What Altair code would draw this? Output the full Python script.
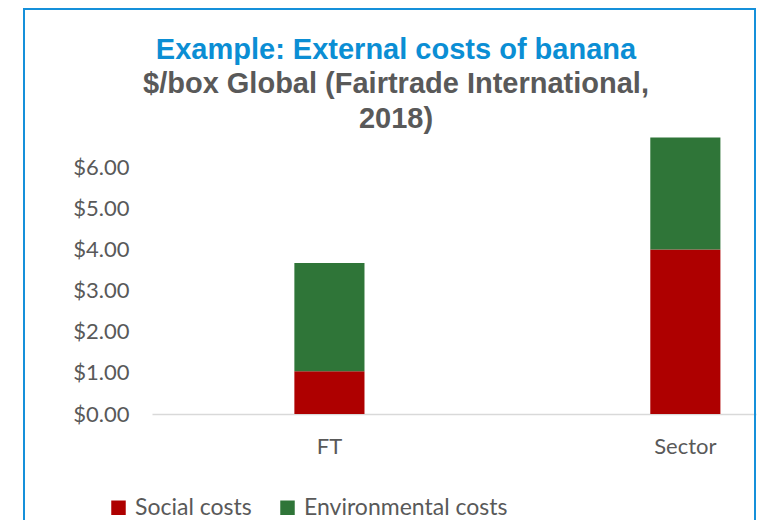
import altair as alt
import pandas as pd

categories = ["FT", "Sector"]
series = ["Social costs", "Environmental costs"]
social_costs = [1.04, 4.00]
environmental_costs = [2.63, 2.72]
series_colors = ["#AE0000", "#2F7538"]
y_ticks = [0, 1, 2, 3, 4, 5, 6]

rows = []
for i, c in enumerate(categories):
    rows.append({"cat": c, "series": series[0], "value": social_costs[i], "ord": 0})
    rows.append({"cat": c, "series": series[1], "value": environmental_costs[i], "ord": 1})
df = pd.DataFrame(rows)

LABEL_FONT = "Lato"
GRAY = "#595959"

bars = alt.Chart(df).mark_bar().encode(
    x=alt.X(
        "cat:N",
        sort=categories,
        title=None,
        scale=alt.Scale(paddingInner=0.803, paddingOuter=0.25, align=0.8),
        axis=alt.Axis(labelAngle=0, ticks=False, domainColor="#D9D9D9", domainWidth=1.5,
                      labelPadding=22, labelFont=LABEL_FONT, labelFontSize=22, labelColor=GRAY),
    ),
    y=alt.Y(
        "value:Q",
        stack="zero",
        title=None,
        scale=alt.Scale(domain=[0, 7], nice=False),
        axis=alt.Axis(values=y_ticks, format="$.2f", grid=False, domain=False, ticks=False,
                      labelPadding=23, labelFont=LABEL_FONT, labelFontSize=22, labelColor=GRAY),
    ),
    color=alt.Color(
        "series:N",
        scale=alt.Scale(domain=series, range=series_colors),
        legend=alt.Legend(title=None, orient="none", legendX=-45, legendY=370,
                          direction="horizontal", symbolType="square", symbolSize=210,
                          symbolStrokeWidth=0, labelFont=LABEL_FONT, labelFontSize=23,
                          labelColor=GRAY, columnPadding=24, labelOffset=5, padding=0,
                          labelLimit=400),
    ),
    order=alt.Order("ord:Q"),
)

frame = alt.Chart(alt.Data(values=[{"a": 1}])).mark_rect(
    fillOpacity=0, stroke="#1590DA", strokeWidth=2
).encode(
    x=alt.value(-128), x2=alt.value(603), y=alt.value(-117), y2=alt.value(400)
)

chart = alt.layer(frame, bars).properties(
    width=604,
    height=288,
    autosize=alt.AutoSizeParams(type="none"),
    padding={"left": 144, "top": 118, "right": 1, "bottom": 106},
    title=alt.TitleParams(
        text="Example: External costs of banana",
        subtitle=["$/box Global (Fairtrade International,", "2018)"],
        font="Liberation Sans", fontSize=29, fontWeight="bold", color="#0B8ED4",
        subtitleFont="Liberation Sans", subtitleFontSize=29, subtitleFontWeight="bold",
        subtitleColor=GRAY, subtitleLineHeight=35, subtitlePadding=5,
        anchor="middle", frame="group", dx=-58, offset=-126,
    ),
).configure_view(stroke=None)

chart.save("out.html", embed_options={"renderer": "svg", "actions": False})
